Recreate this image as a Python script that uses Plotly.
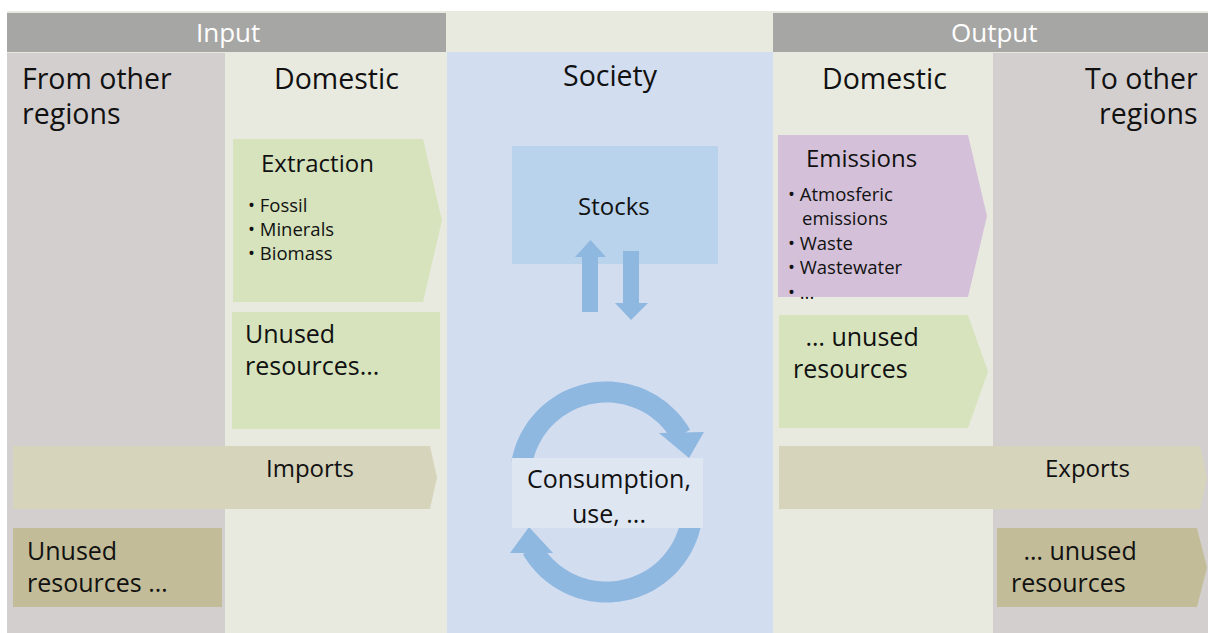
import numpy as np
import plotly.graph_objects as go

W, H = 1208, 633
FONT = "Open Sans"

# ---- diagram content (text) ----
header_labels = ["Input", "Output"]
column_titles = ["From other|regions", "Domestic", "Society", "Domestic", "To other|regions"]
extraction_title = "Extraction"
extraction_items = ["• Fossil", "• Minerals", "• Biomass"]
emission_title = "Emissions"
emission_items = ["• Atmosferic", "  emissions", "• Waste", "• Wastewater", "• ..."]
unused_in_domestic = ["Unused", "resources..."]
unused_out_domestic = [" … unused", "resources"]
unused_in_other = ["Unused", "resources …"]
unused_out_other = [" … unused", "resources"]
trade_labels = ["Imports", "Exports"]
stock_label = "Stocks"
consumption_label = ["Consumption,", "use, ..."]

# ---- colours ----
C_BEIGE = "#e9eadf"
C_GREYCOL = "#d3cfcf"
C_HEADER = "#a6a6a5"
C_SOC = "#d3ddf0"
C_GREEN = "#d6e3bd"
C_LAV = "#d4c1d9"
C_STOCK = "#b9d3ec"
C_ARROW = "#8fb8e1"
C_TRADE = "#d6d4bb"
C_OLIVE = "#c2bd98"
C_CONS = "#dee6f2"
C_TXT = "#111111"

fig = go.Figure()
shapes = []
annos = []


def rect(x0, y0, x1, y1, color):
    shapes.append(dict(type="rect", x0=x0, y0=y0, x1=x1, y1=y1, xref="x", yref="y",
                       fillcolor=color, line=dict(width=0), layer="below"))


def poly(pts, color):
    d = "M " + " L ".join(f"{x:.1f},{y:.1f}" for x, y in pts) + " Z"
    shapes.append(dict(type="path", path=d, xref="x", yref="y",
                       fillcolor=color, line=dict(width=0), layer="below"))


def chevron(x0, y0, x1, y1, tip, color):
    poly([(x0, y0), (x1, y0), (tip, (y0 + y1) / 2), (x1, y1), (x0, y1)], color)


def text(x, y, s, size, anchor="left", color=C_TXT):
    annos.append(dict(x=x, y=y, xref="x", yref="y", text=s, showarrow=False,
                      xanchor=anchor, yanchor="middle",
                      font=dict(family=FONT, size=size, color=color, weight=500)))


def ring(cx, cy, ro, ri, a0, a1, color):
    t = np.radians(np.linspace(a0, a1, 60))
    outer = [(cx + ro * np.cos(a), cy + ro * np.sin(a)) for a in t]
    inner = [(cx + ri * np.cos(a), cy + ri * np.sin(a)) for a in t[::-1]]
    poly(outer + inner, color)


# background and column bands
rect(7, 11, W, H, C_BEIGE)
rect(7, 13, 446, 52, C_HEADER)
rect(773, 13, W, 52, C_HEADER)
rect(7, 53, 225, H, C_GREYCOL)
rect(447, 52, 773, H, C_SOC)
rect(993, 53, W, H, C_GREYCOL)

# input domestic boxes
chevron(233, 139, 423, 302, 442, C_GREEN)
rect(232, 312, 440, 429, C_GREEN)
# output domestic boxes
chevron(778, 135, 968, 297, 987, C_LAV)
chevron(779, 315, 968, 428, 988, C_GREEN)
# trade arrows
chevron(13, 446, 430, 509, 437, C_TRADE)
chevron(779, 446, 1200, 509, 1207, C_TRADE)
rect(13, 528, 222, 607, C_OLIVE)
chevron(997, 528, 1197, 607, 1207, C_OLIVE)

# society: stocks and arrows
rect(512, 146, 718, 264, C_STOCK)
poly([(582, 312), (582, 257), (575, 257), (590.5, 240), (606, 257), (598, 257), (598, 312)], C_ARROW)
poly([(623, 251), (639, 251), (639, 303), (648, 303), (631, 320), (615, 303), (623, 303)], C_ARROW)

# cycle arrows
ring(606.5, 478, 96.5, 75.5, 190, 330, C_ARROW)
poly([(659, 433), (704, 432), (689, 458)], C_ARROW)
ring(606.5, 506, 96.5, 75.5, 8, 150, C_ARROW)
poly([(510, 553), (553, 553), (529, 527)], C_ARROW)
rect(512, 458, 703, 528, C_CONS)

# ---- text ----
EN = "\u2002"
text(228, 32, header_labels[0], 26, "center", "white")
text(994, 32, header_labels[1], 26, "center", "white")

t0 = column_titles[0].split("|")
text(20, 78, t0[0], 28.5)
text(20, 113, t0[1], 28.5)
text(336, 78, column_titles[1], 28.5, "center")
text(610, 75, column_titles[2], 28.5, "center")
text(884, 78, column_titles[3], 28.5, "center")
t4 = column_titles[4].split("|")
text(1200, 78, t4[0], 28.5, "right")
text(1200, 113, t4[1], 28.5, "right")

text(259, 162, extraction_title, 24)
for i, s in enumerate(extraction_items):
    text(246, 204 + 24 * i, s, 18.5)

text(804, 157, emission_title, 24)
em_y = [193, 217, 242, 266, 291]
for s, y in zip(emission_items, em_y):
    text(786, y, s.replace("  ", EN + " "), 18.5)

text(243, 333, unused_in_domestic[0], 25)
text(243, 365, unused_in_domestic[1], 25)
text(791, 336, unused_out_domestic[0].replace(" ", EN, 1), 25)
text(791, 368, unused_out_domestic[1], 25)

text(310, 467, trade_labels[0], 24, "center")
text(1087, 467, trade_labels[1], 24, "center")

text(25, 550, unused_in_other[0], 25)
text(25, 582, unused_in_other[1], 25)
text(1009, 550, unused_out_other[0].replace(" ", EN, 1), 25)
text(1009, 582, unused_out_other[1], 25)

text(614, 205, stock_label, 24, "center")
text(609, 478, consumption_label[0], 25, "center")
text(609, 513, consumption_label[1], 25, "center")

fig.update_layout(
    width=W, height=H, margin=dict(l=0, r=0, t=0, b=0),
    paper_bgcolor="white", plot_bgcolor="white",
    xaxis=dict(range=[0, W], visible=False, fixedrange=True),
    yaxis=dict(range=[H, 0], visible=False, fixedrange=True),
    shapes=shapes, annotations=annos, showlegend=False,
)
fig.write_html(
    "out.html",
    config={"displayModeBar": False},
    post_script="document.body.style.margin='0';document.body.style.overflow='hidden';",
)
